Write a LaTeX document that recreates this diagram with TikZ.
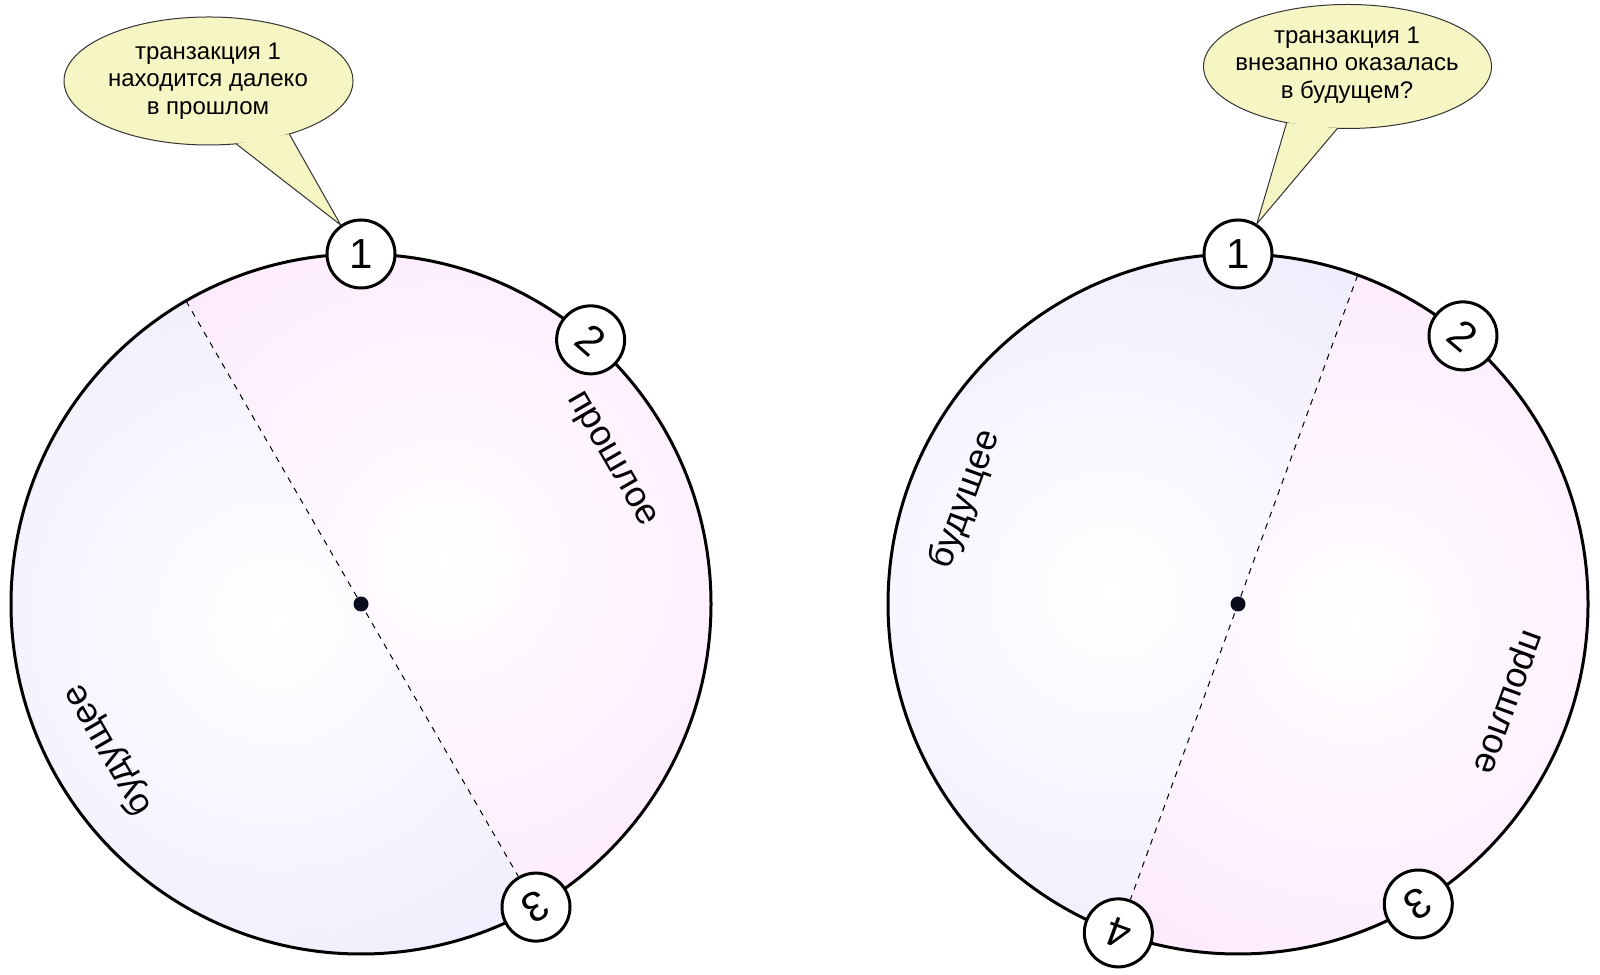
\documentclass[tikz,border=0pt]{standalone}
\usepackage{fontspec}
\setmainfont{Liberation Sans}
\usetikzlibrary{calc}
\definecolor{pinkc}{RGB}{252,224,252}
\definecolor{lavc}{RGB}{234,229,252}
\definecolor{callfill}{RGB}{246,246,196}
\definecolor{hubc}{RGB}{10,12,30}
\begin{document}
\begin{tikzpicture}[x=0.5pt,y=0.5pt,
 rim/.style={line width=1.5pt},
 num/.style={circle,draw,fill=white,line width=1.5pt,minimum size=34pt,inner sep=0pt,font=\fontsize{21}{24}\selectfont},
 lbl/.style={font=\fontsize{18}{20}\selectfont,inner sep=0pt},
 callout/.style={fill=callfill,draw=black!80,line width=0.5pt},
 calltext/.style={align=center,font=\fontsize{12}{13.75}\selectfont},
 divider/.style={dash pattern=on 3pt off 3pt,line width=0.5pt},
 hub/.style={circle,fill=hubc,inner sep=0pt,minimum size=7.5pt}]
\useasboundingbox (0,0) rectangle (1600,974);
\coordinate (cL) at (361,370);
\coordinate (cR) at (1238,370);
% ---------- left circle ----------
\begin{scope}
\clip (cL) ++(-60:350) arc[start angle=-60,end angle=120,radius=350] -- cycle;
\shade[inner color=white,outer color=pinkc] (444,413) circle (560);
\end{scope}
\begin{scope}
\clip (cL) ++(120:350) arc[start angle=120,end angle=300,radius=350] -- cycle;
\shade[inner color=white,outer color=lavc] (276,352) circle (560);
\end{scope}
\draw[rim] (cL) circle (350);
\coordinate (Ltop) at ($(cL)+(120:350)$);
\node[num] (L1) at ($(cL)+(90:350)$) {1};
\node[num,rotate=-41] (L2) at ($(cL)+(49:350)$) {2};
\node[num,rotate=-150] (L3) at ($(cL)+(-60:350)$) {3};
\draw[divider] (Ltop) -- (L3);
\node[hub] (hL) at (cL) {};
\node[lbl,rotate=-60] (pL) at ($(cL)+(30:288)$) {прошлое};
\node[lbl,rotate=120] (fL) at ($(cL)+(210:292)$) {будущее};
% ---------- right circle ----------
\begin{scope}
\clip (cR) ++(70:350) arc[start angle=70,end angle=250,radius=350] -- cycle;
\shade[inner color=white,outer color=lavc] (1112,381) circle (560);
\end{scope}
\begin{scope}
\clip (cR) ++(250:350) arc[start angle=250,end angle=430,radius=350] -- cycle;
\shade[inner color=white,outer color=pinkc] (1356,352) circle (560);
\end{scope}
\draw[rim] (cR) circle (350);
\coordinate (Rtop) at ($(cR)+(70:350)$);
\node[num] (R1) at ($(cR)+(90:350)$) {1};
\node[num,rotate=-40] (R2) at ($(cR)+(50:350)$) {2};
\node[num,rotate=-149] (R3) at ($(cR)+(-59:350)$) {3};
\node[num,rotate=160] (R4) at ($(cR)+(-110:350)$) {4};
\draw[divider] (Rtop) -- (R4);
\node[hub] (hR) at (cR) {};
\node[lbl,rotate=70] (fR) at ($(cR)+(159:292)$) {будущее};
\node[lbl,rotate=-110] (pR) at ($(cR)+(-20:284)$) {прошлое};
% ---------- callouts ----------
\coordinate (eL) at (208.5,893);
\draw[callout] (eL) ellipse [x radius=144.5,y radius=64];
\fill[callfill] ($(eL)+(-79:144.5 and 64)$) -- (L1.125) -- ($(eL)+(-56:144.5 and 64)$) -- cycle;
\draw[callout,fill=none] ($(eL)+(-79:144.5 and 64)$) -- (L1.125) -- ($(eL)+(-56:144.5 and 64)$);
\node[calltext] (tL) at (208,893) {транзакция 1\\находится далеко\\в прошлом};
\coordinate (eR) at (1347.5,907.5);
\draw[callout] (eR) ellipse [x radius=144,y radius=62];
\fill[callfill] ($(eR)+(-115:144 and 62)$) -- (R1.58) -- ($(eR)+(-94:144 and 62)$) -- cycle;
\draw[callout,fill=none] ($(eR)+(-115:144 and 62)$) -- (R1.58) -- ($(eR)+(-94:144 and 62)$);
\node[calltext] (tR) at (1347,909) {транзакция 1\\внезапно оказалась\\в будущем?};
\end{tikzpicture}
\end{document}
